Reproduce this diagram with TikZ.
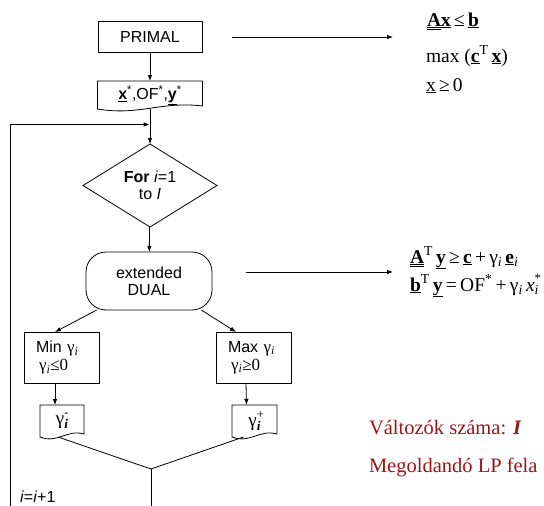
\documentclass[tikz,border=0pt]{standalone}
\usepackage{fontspec}
\setmainfont{Liberation Serif}
\setsansfont{Liberation Sans}
\usetikzlibrary{shapes.geometric,arrows.meta}
\definecolor{nred}{RGB}{155,20,25}
\newcommand{\ubf}[1]{\underline{\textbf{#1}}}
\newcommand{\uubf}[1]{\underline{\underline{\textbf{#1}}}}
\newcommand{\gi}{γ\textsubscript{\textit{i}}}
% superscript over subscript
\newcommand{\supsub}[2]{\rlap{\raisebox{0.42em}{\scalebox{0.65}{#1}}}\raisebox{-0.2em}{\scalebox{0.7}{#2}}}
% document symbol: box with a wavy lower edge
\newcommand{\docoutline}[2]{\draw (#1.north west) -- (#1.north east) -- ([yshift=3pt]#1.south east)
    .. controls +(-0.4*#2,-5) and +(0.4*#2,7) .. (#1.south west) -- cycle;}

\begin{document}
\begin{tikzpicture}[x=1pt,y=-1pt,line width=0.8pt,>={Latex[length=6pt,width=4.5pt]}]
    \tikzstyle{every node}=[font=\fontsize{16}{17}\selectfont\sffamily,inner sep=0,outer sep=0]
    \tikzstyle{block}=[draw,minimum width=75pt,minimum height=51pt,text width=52pt,align=left]
    \tikzstyle{docbox}=[minimum height=32pt,align=center]
    \tikzstyle{greek}=[font=\fontsize{19}{20}\selectfont\rmfamily]
    \tikzstyle{formula}=[anchor=base west,font=\fontsize{19.5}{20}\selectfont\rmfamily]
    \tikzstyle{note}=[anchor=base west,text=nred,font=\fontsize{20.5}{24}\selectfont\rmfamily]
    \useasboundingbox (0,0) rectangle (544,506);
    \clip (0,0) rectangle (544,506);

    \node[draw,minimum width=104pt,minimum height=31pt] (primal) at (150,37) {PRIMAL};
    \node[docbox,minimum width=105pt,minimum height=28pt] (opt) at (150,95)
        {\ubf{x}\textsuperscript{*},OF\textsuperscript{*},\ubf{y}\textsuperscript{*}};
    \docoutline{opt}{105}
    \node[draw,diamond,minimum width=134pt,minimum height=83pt,align=center] (forloop) at (150,185.5)
        {\textbf{For} \textit{i}=1\\to \textit{I}};
    \node[draw,rounded corners=20pt,minimum width=126pt,minimum height=58pt,align=center] (dual) at (149,281)
        {extended\\DUAL};
    \node[block] (minbox) at (62,357.5)
        {Min {\fontsize{17}{17}\selectfont\rmfamily\gi}\\[1pt]\hspace*{3pt}{\fontsize{17}{17}\selectfont\rmfamily\gi≤0}};
    \node[block] (maxbox) at (254,357.5)
        {Max {\fontsize{17}{17}\selectfont\rmfamily\gi}\\[1pt]\hspace*{3pt}{\fontsize{17}{17}\selectfont\rmfamily\gi≥0}};
    \node[docbox,greek,minimum width=44pt] (gminus) at (62,421)
        {γ\supsub{-}{\textbf{\textit{i}}}};
    \docoutline{gminus}{44}
    \node[docbox,greek,minimum width=45pt] (gplus) at (254.5,421)
        {γ\supsub{+}{\textbf{\textit{i}}}};
    \docoutline{gplus}{45}
    \coordinate (join) at (151,469);
    \coordinate (exit) at (151,506);
    \coordinate (back) at (10,506);
    \coordinate (looptip) at (149.6,124.5);
    \node[anchor=west] (incr) at (20,497) {\textit{i}=\textit{i}+1};

    \draw (primal) -- (opt) [->];
    \draw (opt.south) -- (forloop.north) [->];
    \draw (back) |- (looptip) [->];
    \draw (forloop) -- (dual) [->];
    \draw (dual.209) -- ([xshift=-7pt]minbox.north) [->];
    \draw (dual.331) -- ([xshift=-18pt]maxbox.north) [->];
    \draw ([xshift=-7pt]minbox.south) -- ([xshift=-7pt]gminus.north) [->];
    \draw ([xshift=-8pt]maxbox.south) -- ([xshift=-8pt]gplus.north) [->];
    \draw ([xshift=-4pt]gminus.south) -- (join);
    \draw ([xshift=-11pt]gplus.south) -- (join);
    \draw (join) -- (exit);

    % the two LP models
    \coordinate (p1) at (232,37);
    \coordinate (p2) at (393,37);
    \draw (p1) -- (p2) [->];
    \node[formula] (lp1) at (427,26) {\uubf{A}\ubf{x}\,≤\,\ubf{b}};
    \node[formula] (lp2) at (426,62) {max (\ubf{c}\textsuperscript{T}\,\ubf{x})};
    \node[formula] (lp3) at (426,91) {\underline{x}\,≥\,0};
    \coordinate (d1) at (246,272);
    \coordinate (d2) at (393,272);
    \draw (d1) -- (d2) [->];
    \node[formula] (dl1) at (410,263) {\uubf{A}\textsuperscript{T}\,\ubf{y}\,≥\,\ubf{c}\,+\,\gi\,\ubf{e}\textsubscript{\textit{i}}};
    \node[formula] (dl2) at (410,291) {\ubf{b}\textsuperscript{T}\,\ubf{y}\,=\,OF\textsuperscript{*}\,+\,\gi\,\textit{x}\supsub{*}{\textit{i}}};

    \node[note] (nvar) at (369,434) {Változók száma: \textbf{\textit{I}}};
    \node[note] (nlp) at (369,472) {Megoldandó LP fela};
\end{tikzpicture}
\end{document}
